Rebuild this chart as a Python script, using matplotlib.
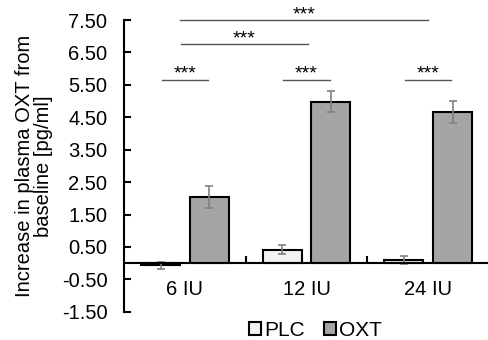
import numpy as np
import matplotlib.pyplot as plt

plt.rcParams['font.family'] = ['Liberation Sans', 'DejaVu Sans']

# data
doses = ['6 IU', '12 IU', '24 IU']
plc_mean = [-0.07, 0.42, 0.10]
plc_err = [0.12, 0.13, 0.13]
oxt_mean = [2.04, 4.98, 4.65]
oxt_err = [0.34, 0.33, 0.34]
yticks = [-1.5, -0.5, 0.5, 1.5, 2.5, 3.5, 4.5, 5.5, 6.5, 7.5]

# significance brackets: (x start, x end, height)
sig_within = [(-0.19, 0.19, 5.65), (0.81, 1.19, 5.65), (1.81, 2.19, 5.65)]
sig_between = [(-0.03, 1.01, 6.75), (-0.04, 2.0, 7.49)]

fig = plt.figure(figsize=(4.89, 3.40), dpi=100)
ax = fig.add_axes([0.2536, 0.083, 0.7464, 0.858])

x = np.arange(len(doses))
w = 0.32
off = 0.2
err_kw = dict(ecolor='#808080', elinewidth=1.2, capsize=3.2, capthick=1.2)
ax.bar(x - off, plc_mean, w, yerr=plc_err, color='#f2f2f2', edgecolor='black',
       linewidth=1.5, error_kw=err_kw, label='PLC', zorder=2)
ax.bar(x + off, oxt_mean, w, yerr=oxt_err, color='#a5a5a5', edgecolor='black',
       linewidth=1.5, error_kw=err_kw, label='OXT', zorder=2)

ax.set_xlim(-0.5, 2.5)
ax.set_ylim(-1.5, 7.5)
ax.set_yticks(yticks)
ax.set_yticklabels([f'{v:.2f}' for v in yticks])
ax.tick_params(axis='y', direction='in', length=5, width=1.5, pad=12, labelsize=14.5)

ax.set_xticks(x)
ax.set_xticklabels(doses)
ax.set_xticks([0.5, 1.5], minor=True)
ax.tick_params(axis='x', which='major', length=0, pad=12, labelsize=14.5)
ax.tick_params(axis='x', which='minor', direction='in', length=5, width=1.5)

for s in ['top', 'right']:
    ax.spines[s].set_visible(False)
ax.spines['bottom'].set_position(('data', 0))
ax.spines['left'].set_linewidth(1.5)
ax.spines['bottom'].set_linewidth(1.5)

ax.set_ylabel('Increase in plasma OXT from\nbaseline [pg/ml]', fontsize=14.5,
              labelpad=6, linespacing=1.05)

for x0, x1, h in sig_within + sig_between:
    ax.plot([x0, x1], [h, h], color='#555555', lw=1, clip_on=False)
    ax.text((x0 + x1) / 2, h + 0.04, '***', ha='center', va='baseline',
            fontsize=14, clip_on=False)

fig.legend(loc='center', bbox_to_anchor=(0.645, 0.028), ncol=2, frameon=False,
           fontsize=15, handlelength=0.6, handleheight=0.6, handletextpad=0.15,
           columnspacing=0.9)

fig.savefig('out.png', dpi=100)
